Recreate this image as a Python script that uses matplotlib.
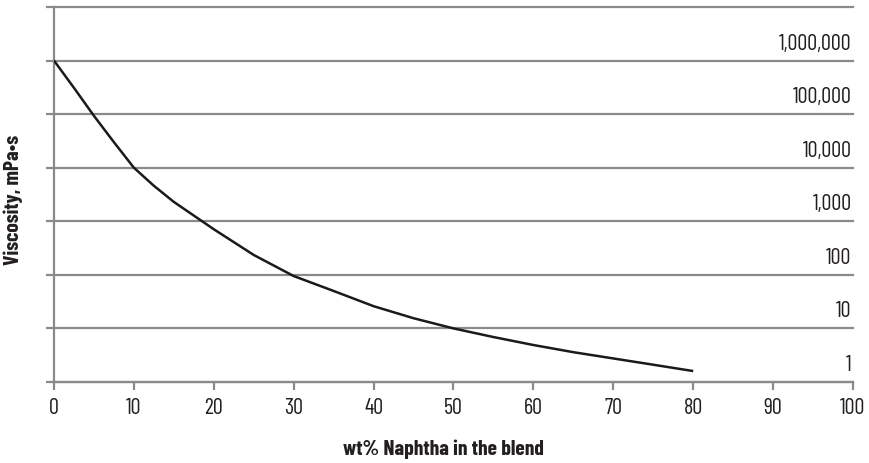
import numpy as np
import matplotlib
matplotlib.use('Agg')
import matplotlib.pyplot as plt
import matplotlib.transforms as mtransforms

# dados (wt% nafta x viscosidade)
naphtha = [0, 2.5, 5, 7.5, 10, 12.5, 15, 20, 25, 30, 35, 40, 45, 50, 55, 60, 65, 70, 75, 80]
viscosity = [1.0e6, 3.1e5, 9.3e4, 3.0e4, 1.0e4, 4.6e3, 2.3e3, 7.1e2, 2.35e2, 95,
             50, 26, 15.5, 10, 6.9, 4.9, 3.6, 2.75, 2.1, 1.6]

grid_values = [1, 10, 100, 1e3, 1e4, 1e5, 1e6, 1e7]
grid_labels = ['1', '10', '100', '1,000', '10,000', '100,000', '1,000,000']
x_ticks = list(range(0, 101, 10))

plt.rcParams['font.family'] = ['Barlow Condensed', 'DejaVu Sans']
cinza = '#8a8a8a'
texto = '#231f20'

fig = plt.figure(figsize=(8.69, 4.64), dpi=100)
ax = fig.add_axes([0.0621, 0.1746, 0.9195, 0.8082])

ax.set_yscale('log')
ax.set_xlim(0, 100)
ax.set_ylim(1, 1e7)

# linhas de grade horizontais
for v in grid_values:
    ax.axhline(v, color=cinza, lw=1.6, zorder=1, clip_on=False)

# curva
ax.plot(naphtha, viscosity, color='#1a1a1a', lw=1.8, zorder=3, solid_capstyle='butt')

# rótulos à direita, acima de cada linha
offset = mtransforms.offset_copy(ax.transData, fig=fig, x=-1, y=5, units='points')
for v, lab in zip(grid_values[:-1], grid_labels):
    ax.text(100, v, lab, ha='right', va='bottom', fontsize=16, fontweight='normal',
            color=texto, transform=offset)

# eixos
for s in ['top', 'right']:
    ax.spines[s].set_visible(False)
for s in ['left', 'bottom']:
    ax.spines[s].set_color(cinza)
    ax.spines[s].set_linewidth(1.6)

ax.set_yticks(grid_values)
ax.set_yticklabels([])
ax.yaxis.set_minor_locator(matplotlib.ticker.NullLocator())
ax.tick_params(axis='y', length=6, width=1.6, color=cinza, direction='out')

ax.set_xticks(x_ticks)
ax.tick_params(axis='x', length=6, width=1.6, color=cinza, direction='out',
               labelsize=16, labelcolor=texto, pad=5)

# títulos dos eixos
fig.text(443 / 869, 1 - 449 / 464, 'wt% Naphtha in the blend', ha='center', va='center',
         fontsize=15.5, fontweight='bold', color=texto)
fig.text(13 / 869, 1 - 200 / 464, 'Viscosity, mPa•s', ha='center', va='center',
         rotation=90, fontsize=15.5, fontweight='bold', color=texto)

fig.savefig('out.png', dpi=100)
